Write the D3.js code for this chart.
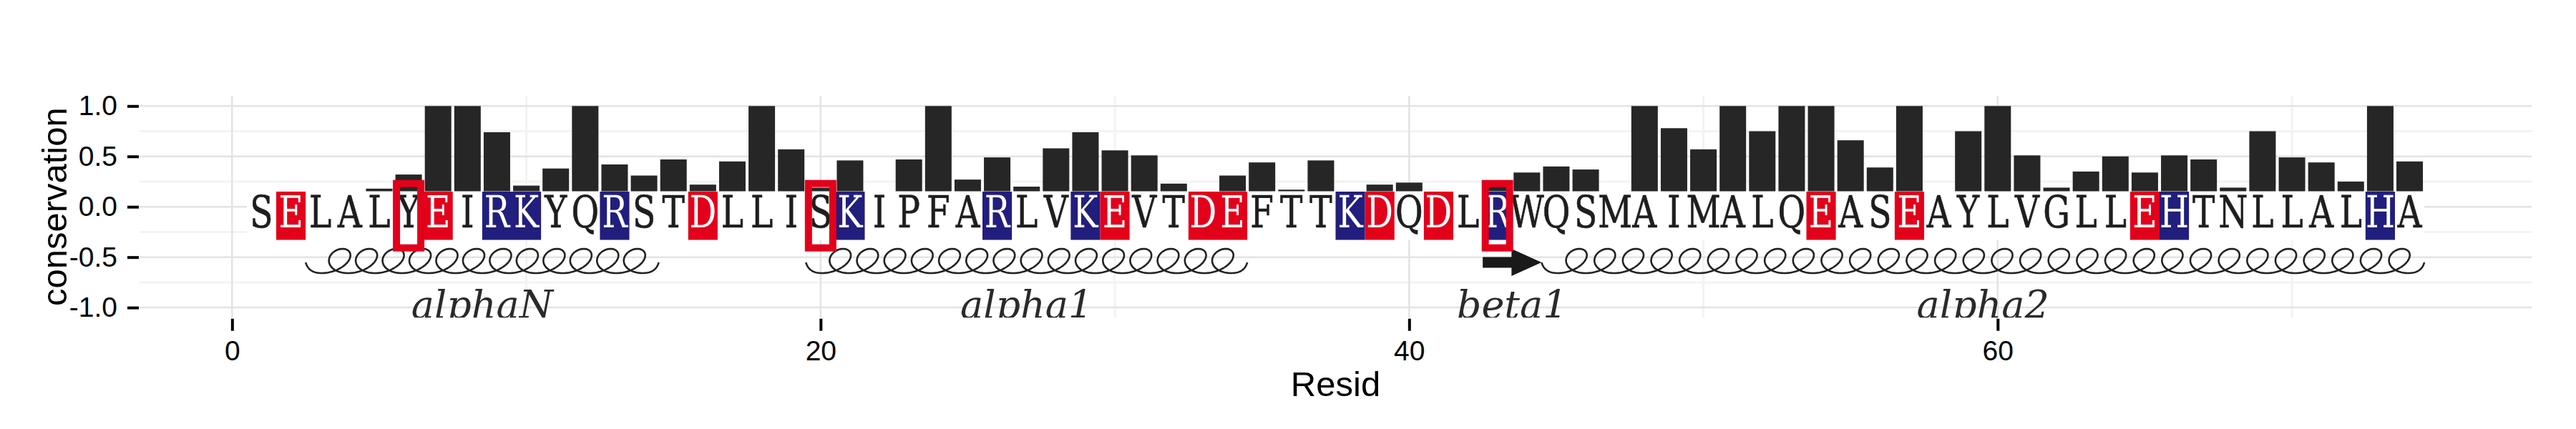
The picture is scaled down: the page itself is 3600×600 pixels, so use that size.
<!DOCTYPE html>
<html><head><meta charset="utf-8">
<script src="https://cdn.jsdelivr.net/npm/d3@7"></script>
<style>body{margin:0;background:#fff} svg{display:block}</style>
</head><body>
<svg id="chart" width="3600" height="600"></svg>
<script>
// ---------------- data ----------------
const sequence = "SELALYEIRKYQRSTDLLISKIPFARLVKEVTDEFTTKDQDLRWQSMAIMALQEASEAYLVGLLEHTNLLALHA".split("");
const resid = d3.range(1, sequence.length + 1);
const conservation = [
  0.14, 0.10, 0.12, 0.15, 0.18, 0.32, 1.00, 1.00, 0.74, 0.21,
  0.38, 1.00, 0.42, 0.31, 0.47, 0.22, 0.45, 1.00, 0.57, 0.19,
  0.46, 0.10, 0.47, 1.00, 0.27, 0.49, 0.20, 0.58, 0.74, 0.56,
  0.51, 0.23, 0.10, 0.31, 0.44, 0.17, 0.46, 0.10, 0.22, 0.24,
  0.10, 0.10, 0.22, 0.34, 0.40, 0.37, 0.10, 1.00, 0.78, 0.57,
  1.00, 0.75, 1.00, 1.00, 0.66, 0.39, 1.00, 0.10, 0.75, 1.00,
  0.51, 0.19, 0.35, 0.50, 0.34, 0.51, 0.47, 0.19, 0.75, 0.49,
  0.44, 0.25, 1.00, 0.45
];
const redResidues  = [2, 7, 16, 30, 33, 34, 39, 41, 54, 57, 65];
const blueResidues = [9, 10, 13, 21, 26, 29, 38, 43, 66, 73];
const boxedResidues = [6, 20, 43];
const ssNames = ["alphaN", "alpha1", "beta1", "alpha2"];
const ssTypes = ["helix", "helix", "strand", "helix"];
const ssStart = [3, 20, 43, 45];
const ssEnd   = [14, 34, 44, 74];
const yTicks = [-1, -0.5, 0, 0.5, 1];
const yMinor = [-0.75, -0.25, 0.25, 0.75];
const xTicks = [0, 20, 40, 60];
const xMinor = [10, 30, 50, 70];
const xTitle = "Resid", yTitle = "conservation";

// ---------------- layout ----------------
const P = {l: 195, r: 3538, t: 134.2, b: 444.2};
const x = d3.scaleLinear().domain([-3.145, 78.145]).range([P.l, P.r]);
const y = d3.scaleLinear().domain([-1.1, 1.1]).range([P.b, P.t]);
const RED = "#E3001B", BLUE = "#221E7E", BAR = "#262626";
const svg = d3.select("#chart");

svg.append("defs").append("clipPath").attr("id", "panel")
  .append("rect").attr("x", P.l).attr("y", P.t).attr("width", P.r - P.l).attr("height", P.b - P.t);

// grid
const grid = svg.append("g");
grid.selectAll(".ymin").data(yMinor).join("line")
  .attr("x1", P.l).attr("x2", P.r).attr("y1", d => y(d)).attr("y2", d => y(d))
  .attr("stroke", "#F3F3F3").attr("stroke-width", 3);
grid.selectAll(".xmin").data(xMinor).join("line")
  .attr("y1", P.t).attr("y2", P.b).attr("x1", d => x(d)).attr("x2", d => x(d))
  .attr("stroke", "#F3F3F3").attr("stroke-width", 3);
grid.selectAll(".ymaj").data(yTicks).join("line")
  .attr("x1", P.l).attr("x2", P.r).attr("y1", d => y(d)).attr("y2", d => y(d))
  .attr("stroke", "#E3E3E3").attr("stroke-width", 2.5);
grid.selectAll(".xmaj").data(xTicks).join("line")
  .attr("y1", P.t).attr("y2", P.b).attr("x1", d => x(d)).attr("x2", d => x(d))
  .attr("stroke", "#E3E3E3").attr("stroke-width", 2.5);

// bars
svg.append("g").selectAll("rect").data(resid).join("rect")
  .attr("x", d => x(d - 0.45)).attr("width", d => x(d + 0.45) - x(d - 0.45))
  .attr("y", d => y(Math.max(0, conservation[d - 1])))
  .attr("height", d => Math.abs(y(conservation[d - 1]) - y(0)))
  .attr("fill", BAR);

// sequence strip
const seqG = svg.append("g");
const seqTop = 267.5, seqBot = 336;
seqG.append("rect").attr("x", x(0.5)).attr("width", x(74.5) - x(0.5))
  .attr("y", seqTop).attr("height", seqBot - seqTop).attr("fill", "#fff");
const colorOf = d => redResidues.includes(d) ? RED : (blueResidues.includes(d) ? BLUE : null);
seqG.selectAll("rect.cbox").data(resid.filter(d => colorOf(d))).join("rect")
  .attr("class", "cbox")
  .attr("x", d => x(d - 0.5)).attr("width", d => x(d + 0.5) - x(d - 0.5))
  .attr("y", seqTop + 0.5).attr("height", 67.5).attr("fill", d => colorOf(d));
seqG.selectAll("text").data(resid).join("text")
  .attr("transform", d => `translate(${x(d)},318) scale(0.76,1)`)
  .attr("text-anchor", "middle")
  .style("font-family", "'DejaVu Serif'").style("font-size", "62px")
  .attr("fill", d => colorOf(d) ? "#fff" : "#1e1e1e")
  .attr("stroke", d => colorOf(d) ? "none" : "#1e1e1e").attr("stroke-width", 0.7)
  .text(d => sequence[d - 1]);

// secondary structure (clipped to panel)
const ss = svg.append("g").attr("clip-path", "url(#panel)");
const yb = 382, hh = 34;
function helixPath(xs, xe, n) {
  const tail = 22, x0 = xs + tail, x1 = xe - tail;
  const p = (x1 - x0) / n, r = 23, sh = 0.32;
  const pts = [];
  const steps = n * 60;
  for (let k = 0; k <= steps; k++) {
    const t = 2 * Math.PI * n * k / steps;
    const yy = yb - hh * (1 - Math.cos(t)) / 2;
    const xx = x0 + p * t / (2 * Math.PI) + r * Math.sin(t) + sh * (yb - yy);
    pts.push([xx, yy]);
  }
  let d = `M${xs},${yb - 15} Q${xs + 4},${yb} ${x0},${yb}`;
  d += pts.map(q => `L${q[0].toFixed(2)},${q[1].toFixed(2)}`).join("");
  d += ` Q${xe - 4},${yb} ${xe},${yb - 15}`;
  return d;
}
ssNames.forEach((name, i) => {
  const xs = x(ssStart[i] - 0.5), xe = x(ssEnd[i] + 0.5);
  if (ssTypes[i] === "helix") {
    ss.append("path").attr("d", helixPath(xs, xe, ssEnd[i] - ssStart[i] + 1))
      .attr("fill", "none").attr("stroke", "#222").attr("stroke-width", 2.6)
      .attr("stroke-linejoin", "round");
  } else {
    const cy = 367, hx = xe - 42;
    ss.append("path")
      .attr("d", `M${xs},${cy - 7.5}L${hx},${cy - 7.5}L${hx},${cy - 19}L${xe},${cy}L${hx},${cy + 19}L${hx},${cy + 7.5}L${xs},${cy + 7.5}Z`)
      .attr("fill", "#1a1a1a");
  }
  ss.append("text").attr("x", (xs + xe) / 2).attr("y", 444.6)
    .attr("text-anchor", "middle")
    .style("font-family", "'DejaVu Serif'").style("font-style", "italic").style("font-size", "54px")
    .attr("fill", "#2a2a2a").text(name);
});

// highlight boxes
svg.append("g").selectAll("rect").data(boxedResidues).join("rect")
  .attr("x", d => x(d) - 17).attr("width", 34)
  .attr("y", 256.7).attr("height", 90)
  .attr("fill", "none").attr("stroke", RED).attr("stroke-width", 10);

// axes
const yAxis = svg.append("g").attr("transform", `translate(${P.l - 1},0)`)
  .call(d3.axisLeft(y).tickValues(yTicks).tickFormat(d => d.toFixed(1)).tickSize(16).tickPadding(14));
const xAxis = svg.append("g").attr("transform", `translate(0,${P.b + 1.5})`)
  .call(d3.axisBottom(x).tickValues(xTicks).tickFormat(d => String(d)).tickSize(17).tickPadding(14));
[yAxis, xAxis].forEach(a => {
  a.select(".domain").remove();
  a.selectAll(".tick line").attr("stroke", "#000").attr("stroke-width", 4);
  a.selectAll(".tick text").attr("fill", "#000")
    .style("font-family", "'Liberation Sans', Arial, sans-serif").style("font-size", "39px");
});

svg.append("text").attr("x", (P.l + P.r) / 2).attr("y", 554).attr("text-anchor", "middle")
  .style("font-family", "'Liberation Sans', Arial, sans-serif").style("font-size", "49px")
  .attr("fill", "#000").text(xTitle);
svg.append("text").attr("transform", `translate(93,${(P.t + P.b) / 2}) rotate(-90)`)
  .attr("text-anchor", "middle")
  .style("font-family", "'Liberation Sans', Arial, sans-serif").style("font-size", "49px")
  .attr("fill", "#000").text(yTitle);
</script>
</body></html>
